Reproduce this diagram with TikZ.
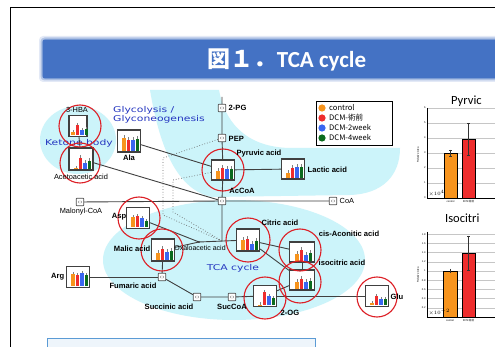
\documentclass[tikz,border=0pt]{standalone}
\usepackage{fontspec}
\setmainfont{Liberation Sans}
\newfontfamily\cjk{Noto Sans CJK JP}
\newfontfamily\calib{Carlito}
\newfontfamily\techfont[FakeStretch=1.35]{DejaVu Sans}
\usetikzlibrary{calc}

\definecolor{bgcyan}{HTML}{CCF4FA}
\definecolor{banner}{HTML}{4472C4}
\definecolor{cOrange}{HTML}{F7941D}
\definecolor{cRed}{HTML}{EE2D2D}
\definecolor{cBlue}{HTML}{3A66F0}
\definecolor{cGreen}{HTML}{0B6B1E}
\definecolor{ringred}{HTML}{DD1F26}
\definecolor{pathgray}{HTML}{404040}
\definecolor{techblue}{HTML}{2536C0}
\definecolor{boxblue}{HTML}{5B9BD5}
\definecolor{boxfill}{HTML}{EEF5FB}

\tikzset{
  chart/.style={draw=gray!50!black, line width=1.2pt, fill=white,
    minimum width=23pt, minimum height=20pt, inner sep=0pt},
  metab/.style={draw=gray!60!black, line width=0.7pt, fill=white,
    rounded corners=0.7pt, minimum size=7.5pt, inner sep=0pt,
    path picture={\draw[gray, line width=0.3pt]
      ([xshift=-1.8pt, yshift=-1pt]path picture bounding box.center) rectangle
      ([xshift=1.8pt, yshift=1pt]path picture bounding box.center);}},
  ring/.style={draw=ringred, line width=1.1pt},
  lbl/.style={font=\fontsize{7.6}{8}\selectfont\bfseries, inner sep=0.5pt},
  lblthin/.style={font=\fontsize{7.4}{8}\selectfont, inner sep=0.5pt},
  tech/.style={font=\techfont\fontsize{8}{9}\selectfont, text=techblue, inner sep=0pt},
  route/.style={draw=pathgray, line width=0.9pt},
  shunt/.style={draw=gray!80!black, dotted, line width=0.7pt},
  errbar/.style={draw=gray, line width=0.3pt},
  gridline/.style={draw=gray!45, line width=0.3pt},
  tiny/.style={font=\fontsize{2.6}{3}\selectfont, inner sep=0.3pt},
}

% mini bar chart: name, position, four bar heights (pt)
\newcommand{\minichart}[7][]{%
  \node[chart, #1] (#2) at #3 {};
  \foreach \hh/\cc [count=\k] in {#4/cOrange,#5/cRed,#6/cBlue,#7/cGreen} {
    \fill[\cc] ($(#2.south)+({(4.5*\k-11.5)*1pt},2pt)$) rectangle ++(3.6pt,\hh pt);
    \draw[errbar] ($(#2.south)+({(4.5*\k-9.7)*1pt},{(2+\hh)*1pt})$) -- ++(0pt,2.2pt);
  }
}

\begin{document}
\begin{tikzpicture}[x=1pt, y=-1pt]
\useasboundingbox (0,0) rectangle (495,347);
\clip (0,0) rectangle (495,347);
\fill[white] (0,0) rectangle (495,347);

% slide frame and title
\draw[black, line width=1pt] (10,347) -- (10,8) -- (500,8);
\foreach \d/\o in {4/0.15, 2.5/0.3, 1.2/0.5}
  \fill[banner, opacity=\o, rounded corners=4pt] (43-\d,40-\d) rectangle (505,78+\d);
\fill[banner] (43,40) rectangle (505,78);
\node[text=white, font=\calib\bfseries\fontsize{23}{26}\selectfont] (title) at (287,60)
  {{\cjk 図１．}TCA cycle};

% cyan background areas
\fill[bgcyan] (78,140) ellipse [x radius=38pt, y radius=34pt];
\fill[bgcyan] (150,90) -- (219,90) .. controls (226,128) and (252,148) .. (292,148)
  -- (400,148) .. controls (400,176) and (382,194) .. (350,195)
  -- (212,197) .. controls (178,190) and (160,150) .. cycle;
\fill[bgcyan] (234,260) ellipse [x radius=131pt, y radius=60pt];

% blue area names
\node[tech, anchor=west] (glyA) at (113,110) {Glycolysis /};
\node[tech, anchor=west] (glyB) at (113,119.5) {Glyconeogenesis};
\node[tech] (ketone) at (79,143) {Ketone body};
\node[tech] (tca) at (233,268) {TCA cycle};

% metabolites without data
\node[metab] (pg) at (222,108) {};
\node[metab] (pep) at (222,138) {};
\node[metab] (accoa) at (222,201) {};
\node[metab] (coa) at (333,201) {};
\node[metab] (malonyl) at (80,202) {};
\node[metab] (fum) at (162,277) {};
\node[metab] (succ) at (197,297) {};
\node[metab] (succoa) at (232,297) {};
\coordinate (top) at (222,97);
\coordinate (cond) at (222,241);
\coordinate (oaa) at (199,242);
\coordinate (bendA) at (163,158);
\coordinate (bendB) at (163,215);
\coordinate (bendC) at (173,180);
\coordinate (bendD) at (173,212);

% metabolites with data
\minichart[minimum width=18pt, minimum height=21pt]{hba}{(78,126)}{3}{10}{5}{6}
\minichart[minimum width=24pt, minimum height=22pt]{aca}{(81,159)}{0.6}{11}{6}{8}
\minichart[minimum height=22pt]{ala}{(129,141)}{13}{11}{11}{12}
\minichart{pyr}{(223,170)}{8}{11}{10}{10}
\minichart{lac}{(293,169)}{5}{10}{11}{11}
\minichart[minimum height=21pt]{asp}{(138,218)}{10}{11}{9}{6}
\minichart[minimum height=22pt]{mal}{(163,250)}{7}{11}{8}{9}
\minichart[minimum height=21pt]{arg}{(78,277)}{12}{11}{13}{11}
\minichart[minimum height=22pt]{cit}{(248,240)}{10}{11}{6}{9}
\minichart[minimum width=25pt]{cis}{(302,252)}{7}{11}{6}{8}
\minichart[minimum width=25pt]{iso}{(302,280)}{7}{10}{7}{8}
\minichart[minimum height=21pt]{og}{(265,296)}{0.6}{13}{9}{7}
\minichart[minimum height=21pt]{glu}{(377,296)}{2}{9}{6}{6}

% connectors
\draw[route] (top) -- (pg) -- (pep) -- (pyr) -- (accoa) -- (cond);
\draw[route] (malonyl) -- (accoa) -- (coa);
\draw[route] (pyr) -- (lac);
\draw[route] (ala) -- (pyr);
\draw[route] (hba) -- (aca);
\draw[route] (aca) -- (accoa);
\draw[route] (asp) -- (oaa);
\draw[route] (mal) -- (oaa) -- (cit);
\draw[route] (mal) -- (fum);
\draw[route] (arg) -- (fum);
\draw[route] (fum) -- (succ) -- (succoa) -- (og);
\draw[route] (cit) -- (cis);
\draw[route] (cit) -- (iso);
\draw[route] (cis) -- (iso);
\draw[route] (iso) -- (og);
\draw[route] (og) -- (glu);
\fill[pathgray] (oaa) circle (1.1pt);
\draw[shunt] (pep) -- (bendA) -- (bendB) -- (cond);
\draw[shunt] (pyr) -- (bendC) -- (bendD) -- (cond);

% red rings
\draw[ring] (80,126) circle (21pt);
\draw[ring] (80,163) circle (20pt);
\draw[ring] (223,170) circle (21pt);
\draw[ring] (139,218) circle (21pt);
\draw[ring] (162,250) circle (21pt);
\draw[ring] (248,240) circle (22pt);
\draw[ring] (300,250) circle (21pt);
\draw[ring] (300,282) circle (21pt);
\draw[ring] (265,298) circle (21pt);
\draw[ring] (377,297) circle (20pt);

% labels
\node[lbl, anchor=west] (pgL) at (228,108) {2-PG};
\node[lbl, anchor=west] (pepL) at (228,139) {PEP};
\node[lbl] (pyrL) at (259,154) {Pyruvic acid};
\node[lbl, anchor=west] (lacL) at (307,170) {Lactic acid};
\node[lbl] (accoaL) at (242,191) {AcCoA};
\node[lblthin, anchor=west] (coaL) at (339,201) {CoA};
\node[lblthin] (malonylL) at (81,212) {Malonyl-CoA};
\node[lbl] (alaL) at (129,158) {Ala};
\node[lblthin] (hbaL) at (77,110) {3-HBA};
\node[lblthin] (acaL) at (81,177) {Acetoacetic acid};
\node[lbl, anchor=east] (aspL) at (127,217) {Asp};
\node[lbl, anchor=east] (malL) at (151,249) {Malic acid};
\node[lblthin, font=\fontsize{7}{8}\selectfont] (oaaL) at (200,248) {Oxaloacetic acid};
\node[lbl] (fumL) at (133,286) {Fumaric acid};
\node[lbl, anchor=east] (argL) at (65,277) {Arg};
\node[lbl] (succL) at (169,307) {Succinic acid};
\node[lbl] (succoaL) at (232,307) {SucCoA};
\node[lbl] (citL) at (280,223) {Citric acid};
\node[lbl] (cisL) at (349,234) {cis-Aconitic acid};
\node[lbl, anchor=west] (isoL) at (318,263) {isocitric acid};
\node[lbl] (ogL) at (290,313) {2-OG};
\node[lbl, anchor=west] (gluL) at (390,297) {Glu};

% legend
\draw[black, fill=white, line width=0.8pt] (316,101) rectangle (392,145);
\foreach \cc/\tt [count=\k] in {cOrange/control, cRed/DCM-術前, cBlue/DCM-2week, cGreen/DCM-4week} {
  \fill[\cc] (322,98+10*\k) circle (3.6pt);
  \node[anchor=west, font=\cjk\fontsize{7.6}{8}\selectfont, inner sep=0pt] (leg\k) at (329,98+10*\k) {\tt};
}

% pyruvic acid chart
\foreach \k in {1,...,6}
  \draw[gridline] (427,198-15*\k) -- (495,198-15*\k);
\foreach \k in {0,...,6}
  \node[tiny, anchor=east] (pyrT\k) at (426,198-15*\k) {\k};
\draw[black, line width=0.4pt] (427,108) -- (427,198) -- (495,198);
\draw[black, line width=0.3pt, fill=cOrange] (444,198) rectangle (457,153);
\draw[black, line width=0.3pt, fill=cRed] (462,198) rectangle (475,139);
\draw[gray!40!black, line width=0.4pt] (450.5,150) -- (450.5,156) (449,150) -- (452,150) (449,156) -- (452,156);
\draw[gray!40!black, line width=0.4pt] (468.5,123) -- (468.5,155) (467,123) -- (470,123) (467,155) -- (470,155);
\node[tiny, rotate=90] (pyrY) at (418,155) {Relative Area};
\node[tiny, anchor=south west] (pyrE) at (428,197) {$\times10^{4}$};
\node[tiny] (pyrX1) at (450.5,202) {control};
\node[tiny, font=\cjk\fontsize{2.6}{3}\selectfont] (pyrX2) at (468.5,202) {DCM 術前};
\node[anchor=west, font=\calib\fontsize{12.5}{13}\selectfont, inner sep=0pt] (pyrT) at (451,101) {Pyrvic};

% isocitric acid chart
\foreach \k in {1,...,9}
  \draw[gridline] (427,317-9.2*\k) -- (495,317-9.2*\k);
\foreach \v [count=\k] in {0.2,0.4,0.6,0.8,1,1.2,1.4,1.6,1.8}
  \node[tiny, anchor=east] (isoT\k) at (426,317-9.2*\k) {\v};
\draw[black, line width=0.4pt] (427,232) -- (427,317) -- (495,317);
\draw[black, line width=0.3pt, fill=cOrange] (443,317) rectangle (457,271);
\draw[black, line width=0.3pt, fill=cRed] (462,317) rectangle (475,253);
\draw[gray!40!black, line width=0.4pt] (450,269) -- (450,273);
\draw[gray!40!black, line width=0.4pt] (468.5,236) -- (468.5,270) (467,236) -- (470,236) (467,270) -- (470,270);
\node[tiny, rotate=90] (isoY) at (418,275) {Relative Area};
\node[tiny, anchor=south west] (isoE) at (428,316) {$\times10^{-2}$};
\node[tiny] (isoX1) at (450,321) {control};
\node[tiny, font=\cjk\fontsize{2.6}{3}\selectfont] (isoX2) at (468.5,321) {DCM 術前};
\node[anchor=west, font=\calib\fontsize{12.5}{13}\selectfont, inner sep=0pt] (isoTt) at (445,218) {Isocitri};

% caption box at the bottom
\draw[boxblue, fill=boxfill, line width=0.8pt] (47,338) rectangle (315,352);
\end{tikzpicture}
\end{document}
